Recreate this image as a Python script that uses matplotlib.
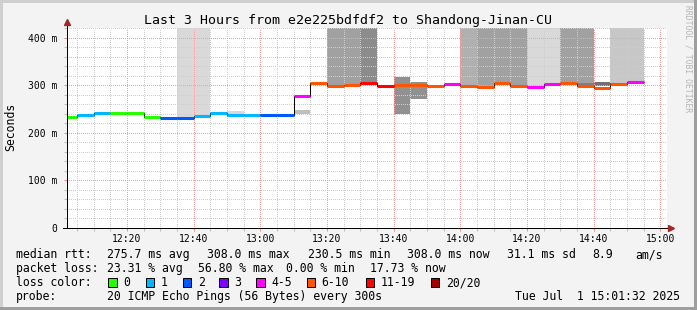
import numpy as np
import pandas as pd
import matplotlib
matplotlib.use('Agg')
import matplotlib.pyplot as plt
import matplotlib.dates as mdates
from matplotlib.patches import Rectangle

plt.rcParams['font.family'] = 'DejaVu Sans Mono'

# 5 minute rounds, 12:00 .. 14:50
times = pd.date_range('2025-07-01 12:00', periods=35, freq='5min')

# median rtt per round (ms)
median = [234, 238, 242, 242, 242, 234, 230.5, 230.5, 236, 242,
          238.5, 238.5, 238.5, 238.5, 277, 306, 299, 300.5, 305, 299,
          300, 302, 299.5, 303, 299.5, 297, 304.5, 299, 297, 303,
          305, 299.5, 295, 302.5, 308]
# lost pings out of 20
loss = [0, 1, 1, 0, 0, 0, 2, 2, 1, 1,
        1, 1, 2, 2, 4, 7, 7, 8, 11, 11,
        8, 7, 7, 5, 7, 8, 7, 7, 5, 5,
        8, 7, 7, 7, 4]
# smoke (spread of the 20 pings): low / high edge (ms) and density
nan = np.nan
smoke_lo = [nan, 234, nan, nan, nan, nan, nan, 232, 236, nan,
            240, nan, nan, nan, 240, nan, 297, 298, 303, nan,
            240, 272, nan, nan, 300, 294, 304, 299, 297, 301,
            303, 298, nan, 302, 307]
smoke_hi = [nan, 238, nan, nan, nan, nan, nan, 500, 500, nan,
            246, nan, nan, nan, 248, nan, 500, 500, 500, nan,
            317, 308, nan, nan, 500, 500, 500, 500, 500, 500,
            500, 500, nan, 500, 500]
smoke_dens = [0, 0.18, 0, 0, 0, 0, 0, 0.15, 0.15, 0,
              0.15, 0, 0, 0, 0.25, 0, 0.37, 0.37, 0.45, 0,
              0.43, 0.43, 0, 0, 0.31, 0.37, 0.37, 0.37, 0.15, 0.15,
              0.37, 0.37, 0, 0.22, 0.22]
# darker core of the smoke
core_lo = [nan] * 19 + [296] + [nan] * 11 + [300, 299, 303, nan]
core_hi = [nan] * 19 + [299] + [nan] * 11 + [305, 307, 306, nan]
core_dens = [0] * 19 + [0.55] + [0] * 11 + [0.5, 0.56, 0.7, 0]

loss_labels = ['0', '1', '2', '3', '4-5', '6-10', '11-19', '20/20']
loss_edges = [0, 1, 2, 3, 4, 6, 11, 20]
loss_colors = ['#26ff00', '#00b8ff', '#0059ff', '#7e00ff',
               '#ff00ff', '#ff5500', '#ff0000', '#a10000']

yticks = [0, 100, 200, 300, 400]
ylabels = ['0', '100 m', '200 m', '300 m', '400 m']

title = 'Last 3 Hours from e2e225bdfdf2 to Shandong-Jinan-CU'

W, H = 697, 310
fig = plt.figure(figsize=(W / 100, H / 100), dpi=100, facecolor='#f3f3f3')
ax = fig.add_axes([67 / W, 1 - 228 / H, 600 / W, 200 / H])
ax.set_facecolor('white')


def fx(x):
    return x / W


def fy(y):
    return 1 - y / H


x0 = mdates.date2num(times)
step = 5 / 1440
edges = np.append(x0, x0[-1] + step)

# smoke
lo = np.array(smoke_lo)
hi = np.array(smoke_hi)
m = ~np.isnan(lo)
ax.bar(x0[m], (hi - lo)[m], bottom=lo[m], width=step, align='edge',
       color=[str(1 - d) for d, k in zip(smoke_dens, m) if k], linewidth=0, zorder=1)
clo = np.array(core_lo)
chi = np.array(core_hi)
m = ~np.isnan(clo)
ax.bar(x0[m], (chi - clo)[m], bottom=clo[m], width=step, align='edge',
       color=[str(1 - d) for d, k in zip(core_dens, m) if k], linewidth=0, zorder=1.1)

# median line
ax.stairs(median, edges, baseline=None, color='black', lw=0.72, zorder=3)
cls = np.digitize(loss, loss_edges) - 1
ax.hlines(median, x0, x0 + step, colors=[loss_colors[c] for c in cls],
          lw=2.2, capstyle='butt', zorder=4)

ax.set_xlim(mdates.date2num(pd.Timestamp('2025-07-01 12:02')),
            mdates.date2num(pd.Timestamp('2025-07-01 15:02')))
ax.set_ylim(0, 421)

ax.xaxis.set_major_locator(mdates.MinuteLocator(byminute=[0, 20, 40]))
ax.xaxis.set_minor_locator(mdates.MinuteLocator(byminute=range(0, 60, 5)))
ax.xaxis.set_major_formatter(mdates.DateFormatter('%H:%M'))
ax.set_yticks(yticks, ylabels)
ax.set_yticks(np.arange(0, 421, 20), minor=True)

ax.set_axisbelow(False)
ax.grid(which='minor', color='#cdcdcd', linestyle=(0, (1, 1.4)), lw=0.72,
        antialiased=False)
ax.grid(which='major', color='#f4a0a0', linestyle=(0, (1, 1.4)), lw=0.72,
        antialiased=False)

for s in ax.spines.values():
    s.set_visible(False)
ax.tick_params(which='both', labelsize=7, direction='out', width=0.72)
ax.tick_params(which='major', length=2, color='#f08a8a')
ax.tick_params(which='minor', length=2, color='#c0c0c0')
ax.tick_params(axis='y', pad=5)
ax.tick_params(axis='x', pad=2.5)

# axes with arrows
ax.plot([0, 0], [0, 1.03], transform=ax.transAxes, color='black', lw=0.72,
        clip_on=False, zorder=6)
ax.plot([-4 / 600, 1.003], [0, 0], transform=ax.transAxes, color='black', lw=0.72,
        clip_on=False, zorder=6)
ax.plot([0], [1.03], transform=ax.transAxes, marker='^', ms=4.5, color='#a02828',
        clip_on=False, zorder=7)
ax.plot([1.007], [0], transform=ax.transAxes, marker='>', ms=4.5, color='#a02828',
        clip_on=False, zorder=7)

fig.text(fx(348), fy(24), title, ha='center', va='baseline', fontsize=9.5)
fig.text(fx(11), fy(127), 'Seconds', rotation=90, ha='center', va='center', fontsize=8.3)
fig.text(fx(688), fy(5), 'RRDTOOL / TOBI OETIKER', rotation=270, ha='center', va='top',
         fontsize=5.8, color='#b4b4b4')

fs = 8.3
line1 = [(16, 'median rtt:'), (107.3, '275.7 ms avg'), (207.3, '308.0 ms max'),
         (308.3, '230.5 ms min'), (406.7, '308.0 ms now'), (506.7, '31.1 ms sd'),
         (592.7, '8.9'), (635.7, 'am/s')]
line2 = [(16, 'packet loss:'), (107.3, '23.31 % avg'), (198.3, '56.80 % max'),
         (286, '0.00 % min'), (370, '17.73 % now')]
for x, s in line1:
    fig.text(fx(x), fy(258.3), s, fontsize=fs, va='baseline')
for x, s in line2:
    fig.text(fx(x), fy(272.3), s, fontsize=fs, va='baseline')

fig.text(fx(16), fy(286.3), 'loss color:', fontsize=fs, va='baseline')
box_x = [108.3, 145.7, 182.7, 219.3, 256, 306.7, 365.7, 430.7]
for bx, lab, c in zip(box_x, loss_labels, loss_colors):
    fig.add_artist(Rectangle((fx(bx), fy(286.7)), 8.5 / W, 9 / H, transform=fig.transFigure,
                             facecolor=c, edgecolor='black', lw=0.72))
    fig.text(fx(bx + 15), fy(286.3), lab, fontsize=fs, va='baseline')

fig.text(fx(16), fy(300.3), 'probe:', fontsize=fs, va='baseline')
fig.text(fx(107.3), fy(300.3), '20 ICMP Echo Pings (56 Bytes) every 300s', fontsize=fs,
         va='baseline')
fig.text(fx(680), fy(300.3), 'Tue Jul  1 15:01:32 2025', fontsize=fs, va='baseline',
         ha='right')

# 3d frame
fig.add_artist(Rectangle((0, 1 - 3 / H), 1, 3 / H, transform=fig.transFigure,
                         facecolor='#cfcfcf', lw=0))
fig.add_artist(Rectangle((0, 0), 3 / W, 1, transform=fig.transFigure,
                         facecolor='#cfcfcf', lw=0))
fig.add_artist(Rectangle((0, 0), 1, 3 / H, transform=fig.transFigure,
                         facecolor='#9e9e9e', lw=0))
fig.add_artist(Rectangle((1 - 3 / W, 0), 3 / W, 1, transform=fig.transFigure,
                         facecolor='#9e9e9e', lw=0))

fig.savefig('out.png', dpi=100, facecolor=fig.get_facecolor())
